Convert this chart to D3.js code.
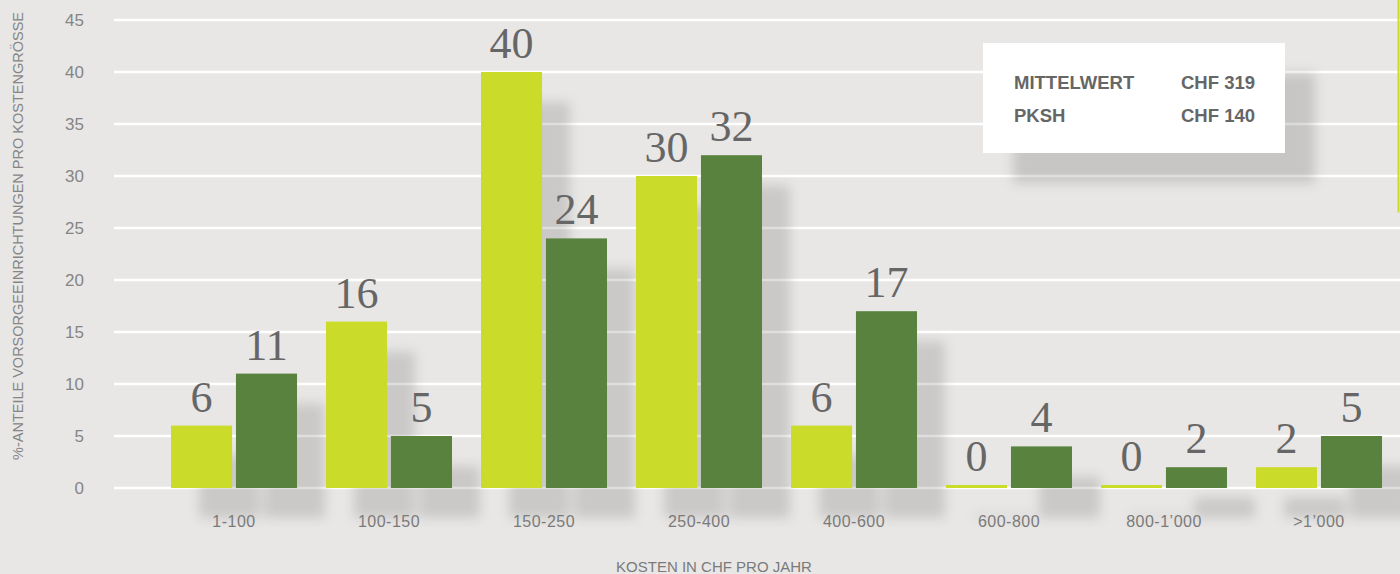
<!DOCTYPE html>
<html><head><meta charset="utf-8">
<script src="https://cdn.jsdelivr.net/npm/d3@7"></script>
<style>html,body{margin:0;padding:0;background:#e8e7e5;}svg{display:block;}</style>
</head><body>
<script>
const categories = ["1-100","100-150","150-250","250-400","400-600","600-800","800-1\u2019000",">1\u2019000"];
const seriesKeys = ["mittelwert","pksh"];
const mittelwert = [6,16,40,30,6,0,0,2];
const pksh = [11,5,24,32,17,4,2,5];
const yTicks = [0,5,10,15,20,25,30,35,40,45];
const legendRows = [["MITTELWERT","CHF 319"],["PKSH","CHF 140"]];
const yTitle = "%-ANTEILE VORSORGEEINRICHTUNGEN PRO KOSTENGRÖSSE";
const xTitle = "KOSTEN IN CHF PRO JAHR";

const W = 1400, H = 574;
const colors = {mittelwert:"#cadb2a", pksh:"#5a823f"};
const svg = d3.select("body").append("svg").attr("width",W).attr("height",H);
svg.append("rect").attr("width",W).attr("height",H).attr("fill","#e8e7e5");

const defs = svg.append("defs");
const f = defs.append("filter").attr("id","blur").attr("x","-50%").attr("y","-50%").attr("width","200%").attr("height","200%");
f.append("feGaussianBlur").attr("stdDeviation",6);

const y = d3.scaleLinear().domain([0,45]).range([488,20]);
const x0 = d3.scaleBand().domain(categories).range([156.5,1396.5]).paddingInner(0.187).paddingOuter(0.0935);
const x1 = d3.scaleBand().domain(seriesKeys).range([0,x0.bandwidth()]).paddingInner(0.06);

const data = categories.map((c,i)=>({cat:c, vals:[{k:"mittelwert",v:mittelwert[i]},{k:"pksh",v:pksh[i]}]}));

// gridlines
svg.append("g").selectAll("line").data(yTicks).join("line")
  .attr("x1",114).attr("x2",W).attr("y1",d=>y(d)).attr("y2",d=>y(d))
  .attr("stroke","#fff").attr("stroke-width",2.5);

// y tick labels
svg.append("g").selectAll("text").data(yTicks).join("text")
  .attr("x",84).attr("y",d=>y(d)).attr("dy","0.36em").attr("text-anchor","end")
  .attr("font-family","Liberation Sans, Arial, sans-serif").attr("font-size",17).attr("fill","#858585")
  .text(d=>d);

// shadows
const sh = svg.append("g").attr("filter","url(#blur)");
data.forEach(d=>{
  d.vals.forEach(v=>{
    const h = Math.max(y(0)-y(v.v),3);
    sh.append("rect").attr("x",x0(d.cat)+x1(v.k)+28).attr("y",y(0)-h+30)
      .attr("width",x1.bandwidth()).attr("height",h).attr("fill","rgba(0,0,0,0.13)");
  });
});

// bars
const g = svg.append("g").selectAll("g").data(data).join("g").attr("transform",d=>`translate(${x0(d.cat)},0)`);
g.selectAll("rect").data(d=>d.vals).join("rect")
  .attr("x",v=>x1(v.k)).attr("width",x1.bandwidth())
  .attr("y",v=>Math.min(y(v.v),y(0)-3)).attr("height",v=>Math.max(y(0)-y(v.v),3))
  .attr("fill",v=>colors[v.k]);
g.selectAll("text").data(d=>d.vals).join("text")
  .attr("x",v=>x1(v.k)+x1.bandwidth()/2).attr("y",v=>Math.min(y(v.v),y(0)-3)-14)
  .attr("text-anchor","middle").attr("font-family","Liberation Serif, Times New Roman, serif")
  .attr("font-size",44).attr("fill","#666")
  .text(v=>v.v);

// x tick labels
svg.append("g").selectAll("text").data(categories).join("text")
  .attr("x",d=>x0(d)+x0.bandwidth()/2).attr("y",527).attr("text-anchor","middle")
  .attr("font-family","Liberation Sans, Arial, sans-serif").attr("font-size",16).attr("fill","#7a7a7a")
  .attr("letter-spacing",0.5)
  .text(d=>d);

// axis titles
svg.append("text").attr("x",714).attr("y",572).attr("text-anchor","middle")
  .attr("font-family","Liberation Sans, Arial, sans-serif").attr("font-size",15).attr("fill","#7a7a7a")
  .text(xTitle);
svg.append("text").attr("transform","translate(23,236) rotate(-90)").attr("text-anchor","middle")
  .attr("font-family","Liberation Sans, Arial, sans-serif").attr("font-size",14.5).attr("fill","#858585")
  .text(yTitle);

// legend box
svg.append("rect").attr("x",1013).attr("y",73).attr("width",302).attr("height",110)
  .attr("fill","rgba(0,0,0,0.14)").attr("filter","url(#blur)");
svg.append("rect").attr("x",983).attr("y",43).attr("width",302).attr("height",110).attr("fill","#fff");
const lg = svg.append("g");
legendRows.forEach((r,i)=>{
  lg.append("text").attr("x",1014).attr("y",89+i*33).attr("font-family","Liberation Sans, Arial, sans-serif")
    .attr("font-weight","bold").attr("font-size",18.5).attr("fill","#666").text(r[0]);
  lg.append("text").attr("x",1255).attr("y",89+i*33).attr("text-anchor","end").attr("font-family","Liberation Sans, Arial, sans-serif")
    .attr("font-weight","bold").attr("font-size",18.5).attr("fill","#666").text(r[1]);
});

// right edge accent line
svg.append("line").attr("x1",1398.5).attr("x2",1398.5).attr("y1",0).attr("y2",y(26.5))
  .attr("stroke","#cadb2a").attr("stroke-width",2);
</script>
</body></html>
